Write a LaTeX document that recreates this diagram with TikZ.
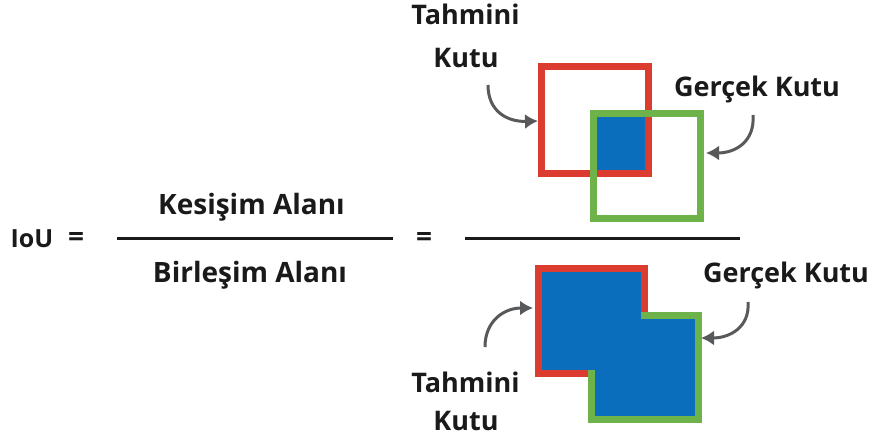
\documentclass[tikz,border=0pt]{standalone}
\usepackage{fontspec}
\setmainfont{Open Sans}
\usetikzlibrary{arrows.meta}
\definecolor{boxred}{HTML}{DC3B2F}
\definecolor{boxgreen}{HTML}{6DB34A}
\definecolor{boxblue}{HTML}{0A6EBD}
\definecolor{arrgray}{HTML}{58595B}
\definecolor{txt}{HTML}{1A1A1A}
\tikzset{
  lbl/.style={anchor=base, inner sep=0pt, text=txt, font=\bfseries\fontsize{27}{29}\selectfont},
  frac/.style={anchor=base, inner sep=0pt, text=txt, font=\bfseries\fontsize{28}{30}\selectfont},
  small/.style={anchor=base, inner sep=0pt, text=txt, font=\bfseries\fontsize{25}{27}\selectfont},
  eqsign/.style={inner sep=0pt, text=txt, font=\bfseries\fontsize{28}{30}\selectfont},
  barline/.style={draw=txt, line width=3pt},
  redbox/.style={draw=boxred, line width=7pt},
  greenbox/.style={draw=boxgreen, line width=7pt},
  pointer/.style={draw=arrgray, line width=3pt, -{Latex[length=13pt,width=15pt]}},
}
\begin{document}
\begin{tikzpicture}[x=1pt,y=-1pt]
\useasboundingbox (0,0) rectangle (872,443);
% left part
\node[small] (iou) at (32,248) {IoU};
\node[eqsign] (eq1) at (76,240) {=};
\coordinate (b1l) at (117,239);
\coordinate (b1r) at (393,239);
\draw[barline] (b1l) -- (b1r);
\node[frac] (num) at (251.5,215) {Kesişim Alanı};
\node[frac] (den) at (250,283) {Birleşim Alanı};
\node[eqsign] (eq2) at (424,240) {=};
\coordinate (b2l) at (465,239);
\coordinate (b2r) at (740,239);
\draw[barline] (b2l) -- (b2r);
% top boxes (intersection)
\draw[redbox] (541.5,66.5) rectangle (648.5,173.5);
\draw[greenbox] (593.5,113.5) rectangle (700.5,218.5);
\fill[boxblue] (597,117) rectangle (645,170);
% top labels
\node[lbl] (t1) at (465.5,25) {Tahmini};
\node[lbl] (t2) at (466,68) {Kutu};
\node[lbl] (g1) at (757,97) {Gerçek Kutu};
\coordinate (a1s) at (488,85);
\coordinate (a1e) at (538,121);
\coordinate (a2s) at (753,115);
\coordinate (a2e) at (706,153);
\draw[pointer] (a1s) .. controls (488,112) and (508,122) .. (a1e);
\draw[pointer] (a2s) .. controls (755,142) and (735,153) .. (a2e);
% bottom boxes (union)
\draw[redbox] (538.5,268.5) rectangle (644.5,373.5);
\draw[greenbox] (591.5,315.5) rectangle (698.5,419.5);
\fill[boxblue] (542,272) rectangle (641,370);
\fill[boxblue] (595,319) rectangle (695,416);
% bottom labels
\node[lbl] (g2) at (786,283) {Gerçek Kutu};
\node[lbl] (t3) at (465.5,392) {Tahmini};
\node[lbl] (t4) at (466,430) {Kutu};
\coordinate (a3s) at (485,347);
\coordinate (a3e) at (533,308);
\coordinate (a4s) at (748,302);
\coordinate (a4e) at (701,338);
\draw[pointer] (a3s) .. controls (485,320) and (505,308) .. (a3e);
\draw[pointer] (a4s) .. controls (750,327) and (730,338) .. (a4e);
\end{tikzpicture}
\end{document}
